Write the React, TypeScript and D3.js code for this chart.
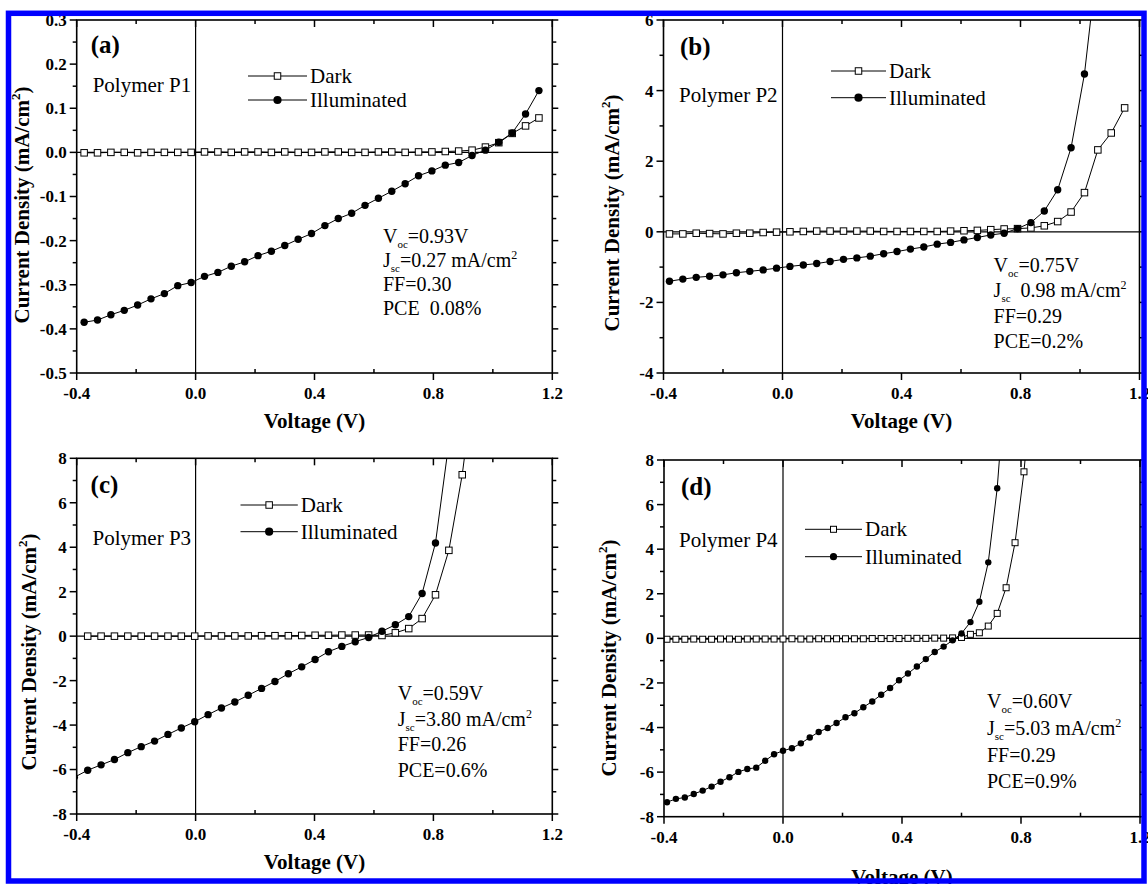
import React from "react";
import * as d3 from "d3";

// ---- data (V in volts, J in mA/cm2) ----
const xTicks = [-0.4, 0.0, 0.4, 0.8, 1.2];
const xMinor = [-0.2, 0.2, 0.6, 1.0];

const yTicksA = [-0.5, -0.4, -0.3, -0.2, -0.1, 0.0, 0.1, 0.2, 0.3];
const yMinorA = [-0.45, -0.35, -0.25, -0.15, -0.05, 0.05, 0.15, 0.25];
const yTicksB = [-4, -2, 0, 2, 4, 6];
const yMinorB = [-3, -1, 1, 3, 5];
const yTicksCD = [-8, -6, -4, -2, 0, 2, 4, 6, 8];
const yMinorCD = [-7, -5, -3, -1, 1, 3, 5, 7];

const voltsA = [-0.375, -0.33, -0.285, -0.24, -0.195, -0.15, -0.105, -0.06, -0.015, 0.03, 0.075, 0.12, 0.165, 0.21, 0.255, 0.3, 0.345, 0.39, 0.435, 0.48, 0.525, 0.57, 0.615, 0.66, 0.705, 0.75, 0.795, 0.84, 0.885, 0.93, 0.975, 1.02, 1.065, 1.11, 1.155];
const illumA = [-0.385, -0.38, -0.368, -0.358, -0.346, -0.332, -0.32, -0.302, -0.295, -0.281, -0.272, -0.258, -0.248, -0.234, -0.224, -0.211, -0.197, -0.184, -0.166, -0.15, -0.138, -0.12, -0.104, -0.088, -0.071, -0.053, -0.042, -0.029, -0.023, -0.007, 0.005, 0.023, 0.044, 0.087, 0.14];
const darkA = [-0.001, -0.001, 0.0, 0.0, -0.001, 0.0, 0.0, 0.0, 0.0, 0.001, 0.001, 0.0, 0.001, 0.001, 0.0, 0.001, 0.0, 0.0, 0.001, 0.001, 0.0, 0.0, 0.001, 0.001, 0.0, 0.001, 0.001, 0.002, 0.003, 0.005, 0.012, 0.022, 0.043, 0.06, 0.078];

const voltsB = [-0.38, -0.335, -0.29, -0.245, -0.2, -0.155, -0.11, -0.065, -0.02, 0.025, 0.07, 0.115, 0.16, 0.205, 0.25, 0.295, 0.34, 0.385, 0.43, 0.475, 0.52, 0.565, 0.61, 0.655, 0.7, 0.745, 0.79, 0.835, 0.88, 0.925, 0.97, 1.015, 1.06, 1.105, 1.15];
const illumB = [-1.4, -1.34, -1.29, -1.26, -1.22, -1.16, -1.12, -1.08, -1.03, -0.98, -0.94, -0.9, -0.84, -0.78, -0.74, -0.69, -0.62, -0.56, -0.49, -0.43, -0.35, -0.3, -0.23, -0.16, -0.09, -0.04, 0.09, 0.26, 0.59, 1.19, 2.38, 4.47, 7.8];
const darkB = [-0.06, -0.06, -0.04, -0.05, -0.06, -0.04, -0.04, -0.02, -0.01, 0.0, 0.01, 0.02, 0.02, 0.02, 0.02, 0.02, 0.01, 0.01, 0.01, 0.01, 0.01, 0.02, 0.03, 0.04, 0.06, 0.08, 0.09, 0.11, 0.17, 0.29, 0.56, 1.11, 2.32, 2.8, 3.51];

const voltsC = [-0.408, -0.363, -0.318, -0.273, -0.228, -0.183, -0.138, -0.093, -0.048, -0.003, 0.042, 0.087, 0.132, 0.177, 0.222, 0.267, 0.312, 0.357, 0.402, 0.447, 0.492, 0.537, 0.582, 0.627, 0.672, 0.717, 0.762, 0.807, 0.852, 0.897, 0.942];
const illumC = [-6.35, -6.03, -5.79, -5.55, -5.24, -4.97, -4.72, -4.42, -4.13, -3.85, -3.53, -3.23, -2.96, -2.66, -2.35, -2.04, -1.69, -1.38, -1.05, -0.7, -0.46, -0.25, -0.06, 0.22, 0.51, 0.88, 1.92, 4.19, 8.7];
const darkC = [null, 0.0, 0.0, 0.0, 0.0, 0.0, 0.0, 0.0, 0.0, 0.0, 0.01, 0.01, 0.01, 0.01, 0.02, 0.02, 0.02, 0.03, 0.04, 0.04, 0.05, 0.05, 0.05, 0.03, 0.15, 0.34, 0.79, 1.86, 3.86, 7.26, 12];

const voltsD = [-0.39, -0.36, -0.33, -0.3, -0.27, -0.24, -0.21, -0.18, -0.15, -0.12, -0.09, -0.06, -0.03, 0.0, 0.03, 0.06, 0.09, 0.12, 0.15, 0.18, 0.21, 0.24, 0.27, 0.3, 0.33, 0.36, 0.39, 0.42, 0.45, 0.48, 0.51, 0.54, 0.57, 0.6, 0.63, 0.66, 0.69, 0.72, 0.75, 0.78, 0.81, 0.84];
const illumD = [-7.35, -7.2, -7.14, -6.98, -6.83, -6.65, -6.43, -6.23, -5.99, -5.86, -5.8, -5.49, -5.2, -5.04, -4.93, -4.71, -4.45, -4.2, -4.02, -3.8, -3.54, -3.36, -3.09, -2.83, -2.53, -2.23, -1.88, -1.58, -1.26, -0.93, -0.61, -0.37, -0.09, 0.22, 0.73, 1.64, 3.41, 6.73, 12];
const darkD = [-0.04, -0.04, -0.04, -0.03, -0.04, -0.04, -0.03, -0.03, -0.04, -0.03, -0.03, -0.03, -0.03, -0.03, -0.02, -0.03, -0.03, -0.02, -0.02, -0.02, -0.02, -0.02, -0.02, -0.01, -0.01, -0.01, -0.01, 0.0, 0.0, 0.0, 0.01, 0.01, 0.02, 0.04, 0.18, 0.25, 0.55, 1.12, 2.27, 4.29, 7.47, 12];

const annA = [
  { base: "V", sub: "oc", text: "=0.93V" },
  { base: "J", sub: "sc", text: "=0.27 mA/cm", sup: "2" },
  { text: "FF=0.30" },
  { text: "PCE  0.08%" },
];
const annB = [
  { base: "V", sub: "oc", text: "=0.75V" },
  { base: "J", sub: "sc", text: "  0.98 mA/cm", sup: "2" },
  { text: "FF=0.29" },
  { text: "PCE=0.2%" },
];
const annC = [
  { base: "V", sub: "oc", text: "=0.59V" },
  { base: "J", sub: "sc", text: "=3.80 mA/cm", sup: "2" },
  { text: "FF=0.26" },
  { text: "PCE=0.6%" },
];
const annD = [
  { base: "V", sub: "oc", text: "=0.60V" },
  { base: "J", sub: "sc", text: "=5.03 mA/cm", sup: "2" },
  { text: "FF=0.29" },
  { text: "PCE=0.9%" },
];

const serif = '"Liberation Serif", "Times New Roman", serif';

const panels = [
  {
    id: "a", tag: "(a)", polymer: "Polymer P1",
    box: { x0: 76.7, x1: 552.3, y0: 20, y1: 373 },
    yDomain: [-0.5, 0.3], yTicks: yTicksA, yMinor: yMinorA, yDec: 1,
    volts: voltsA, illum: illumA, dark: darkA, ann: annA,
    tagPos: [90.7, 53.3], polyPos: [92.7, 91.7],
    legend: { x0: 248, x1: 307, y: 76, gap: 24 },
    annPos: { x: 383, y: 243, dy: 24 },
    yLab: [29, 205], xLabY: 428, r: 3.7, sq: 6.5,
  },
  {
    id: "b", tag: "(b)", polymer: "Polymer P2",
    box: { x0: 663.5, x1: 1139.5, y0: 20, y1: 373 },
    yDomain: [-4, 6], yTicks: yTicksB, yMinor: yMinorB, yDec: 0,
    volts: voltsB, illum: illumB, dark: darkB, ann: annB,
    tagPos: [680, 55], polyPos: [679, 101.7],
    legend: { x0: 831, x1: 886, y: 71, gap: 26.7 },
    annPos: { x: 993.6, y: 271.7, dy: 25.5 },
    yLab: [619, 213], xLabY: 428, r: 3.7, sq: 6.5,
  },
  {
    id: "c", tag: "(c)", polymer: "Polymer P3",
    box: { x0: 76.7, x1: 552.3, y0: 458.3, y1: 814 },
    yDomain: [-8, 8], yTicks: yTicksCD, yMinor: yMinorCD, yDec: 0,
    volts: voltsC, illum: illumC, dark: darkC, ann: annC,
    tagPos: [90.6, 493], polyPos: [92.5, 545],
    legend: { x0: 240.5, x1: 297.8, y: 505, gap: 26.7 },
    annPos: { x: 397.7, y: 700, dy: 25.6 },
    yLab: [36, 652], xLabY: 869, r: 3.7, sq: 6.5,
  },
  {
    id: "d", tag: "(d)", polymer: "Polymer P4",
    box: { x0: 664, x1: 1140, y0: 460, y1: 816.7 },
    yDomain: [-8, 8], yTicks: yTicksCD, yMinor: yMinorCD, yDec: 0,
    volts: voltsD, illum: illumD, dark: darkD, ann: annD,
    tagPos: [681, 495], polyPos: [679, 546.7],
    legend: { x0: 805, x1: 862, y: 529.3, gap: 27.4 },
    annPos: { x: 987, y: 708.3, dy: 26.7 },
    yLab: [616, 658], xLabY: 884, r: 3.2, sq: 6,
  },
];

const Square = ({ cx, cy, s }: { cx: number; cy: number; s: number }) => (
  <rect x={cx - s / 2} y={cy - s / 2} width={s} height={s} fill="#fff" stroke="#000" strokeWidth={1} />
);

const Panel = ({ p }: { p: any }) => {
  const { box } = p;
  const x = d3.scaleLinear().domain([-0.4, 1.2]).range([box.x0, box.x1]);
  const y = d3.scaleLinear().domain(p.yDomain).range([box.y1, box.y0]);

  const toPts = (vals: (number | null)[]) =>
    vals.map((v, i) => [p.volts[i], v] as [number, number | null]).filter((d) => d[1] !== null) as [number, number][];
  const illumPts = toPts(p.illum);
  const darkPts = toPts(p.dark);

  const line = d3.line<[number, number]>().x((d) => x(d[0])).y((d) => y(d[1]));
  const fmtY = (v: number) => v.toFixed(p.yDec);
  const clipId = `clip-${p.id}`;
  const cxMid = (box.x0 + box.x1) / 2;
  const lg = p.legend;
  const lgMid = (lg.x0 + lg.x1) / 2;

  return (
    <g fontFamily={serif}>
      <defs>
        <clipPath id={clipId}>
          <rect x={box.x0} y={box.y0} width={box.x1 - box.x0} height={box.y1 - box.y0} />
        </clipPath>
      </defs>

      {/* zero lines */}
      <line x1={box.x0} x2={box.x1} y1={y(0)} y2={y(0)} stroke="#000" strokeWidth={1.2} />
      <line x1={x(0)} x2={x(0)} y1={box.y0} y2={box.y1} stroke="#000" strokeWidth={1.2} />

      {/* curves */}
      <g clipPath={`url(#${clipId})`}>
        <path d={line(darkPts) || ""} fill="none" stroke="#000" strokeWidth={1} />
        <path d={line(illumPts) || ""} fill="none" stroke="#000" strokeWidth={1} />
        {darkPts.map((d, i) => (
          <Square key={"d" + i} cx={x(d[0])} cy={y(d[1])} s={p.sq} />
        ))}
        {illumPts.map((d, i) => (
          <circle key={"i" + i} cx={x(d[0])} cy={y(d[1])} r={p.r} fill="#000" />
        ))}
      </g>

      {/* frame */}
      <rect x={box.x0} y={box.y0} width={box.x1 - box.x0} height={box.y1 - box.y0} fill="none" stroke="#000" strokeWidth={1.6} />

      {/* x ticks */}
      {xTicks.map((t) => (
        <g key={"xt" + t}>
          <line x1={x(t)} x2={x(t)} y1={box.y1} y2={box.y1 + 7} stroke="#000" strokeWidth={1.5} />
          <line x1={x(t)} x2={x(t)} y1={box.y0} y2={box.y0 + 7} stroke="#000" strokeWidth={1.5} />
          <text x={x(t)} y={box.y1 + 26} textAnchor="middle" fontSize={17} fontWeight="bold">
            {t.toFixed(1)}
          </text>
        </g>
      ))}
      {xMinor.map((t) => (
        <g key={"xm" + t}>
          <line x1={x(t)} x2={x(t)} y1={box.y1} y2={box.y1 - 4} stroke="#000" strokeWidth={1.5} />
          <line x1={x(t)} x2={x(t)} y1={box.y0} y2={box.y0 + 4} stroke="#000" strokeWidth={1.5} />
        </g>
      ))}

      {/* y ticks */}
      {p.yTicks.map((t: number) => (
        <g key={"yt" + t}>
          <line x1={box.x0 - 7} x2={box.x0} y1={y(t)} y2={y(t)} stroke="#000" strokeWidth={1.5} />
          <line x1={box.x1} x2={box.x1 + 6} y1={y(t)} y2={y(t)} stroke="#000" strokeWidth={1.5} />
          <text x={box.x0 - 10} y={y(t)} dy="0.35em" textAnchor="end" fontSize={17} fontWeight="bold">
            {fmtY(t)}
          </text>
        </g>
      ))}
      {p.yMinor.map((t: number) => (
        <g key={"ym" + t}>
          <line x1={box.x0 - 4} x2={box.x0} y1={y(t)} y2={y(t)} stroke="#000" strokeWidth={1.5} />
          <line x1={box.x1} x2={box.x1 + 4} y1={y(t)} y2={y(t)} stroke="#000" strokeWidth={1.5} />
        </g>
      ))}

      {/* axis titles */}
      <text x={cxMid} y={p.xLabY} textAnchor="middle" fontSize={21} fontWeight="bold">
        Voltage (V)
      </text>
      <text
        transform={`translate(${p.yLab[0]},${p.yLab[1]}) rotate(-90)`}
        textAnchor="middle"
        fontSize={21}
        fontWeight="bold"
      >
        Current Density (mA/cm<tspan dy={-9} fontSize={13}>2</tspan>
        <tspan dy={9}>)</tspan>
      </text>

      {/* panel tag and polymer name */}
      <text x={p.tagPos[0]} y={p.tagPos[1]} fontSize={25} fontWeight="bold">
        {p.tag}
      </text>
      <text x={p.polyPos[0]} y={p.polyPos[1]} fontSize={21}>
        {p.polymer}
      </text>

      {/* legend */}
      <line x1={lg.x0} x2={lg.x1} y1={lg.y} y2={lg.y} stroke="#000" strokeWidth={1} />
      <Square cx={lgMid} cy={lg.y} s={p.sq} />
      <text x={lg.x1 + 3} y={lg.y + 7} fontSize={21}>Dark</text>
      <line x1={lg.x0} x2={lg.x1} y1={lg.y + lg.gap} y2={lg.y + lg.gap} stroke="#000" strokeWidth={1} />
      <circle cx={lgMid} cy={lg.y + lg.gap} r={p.r + 0.4} fill="#000" />
      <text x={lg.x1 + 3} y={lg.y + lg.gap + 7} fontSize={21}>Illuminated</text>

      {/* device parameters */}
      {p.ann.map((a: any, i: number) => (
        <text key={"an" + i} x={p.annPos.x} y={p.annPos.y + i * p.annPos.dy} fontSize={20} style={{ whiteSpace: "pre" }}>
          {a.base ? a.base : null}
          {a.sub ? <tspan dy={5} fontSize={11}>{a.sub}</tspan> : null}
          {a.sub ? <tspan dy={-5}>{a.text}</tspan> : a.text}
          {a.sup ? <tspan dy={-8} fontSize={12}>{a.sup}</tspan> : null}
        </text>
      ))}
    </g>
  );
};

export default function App() {
  const W = 1148;
  const H = 884;
  return (
    <div style={{ position: "absolute", left: 0, top: 0 }}>
      <svg width={W} height={H} style={{ display: "block", background: "#fff" }}>
        <rect x={0} y={0} width={W} height={H} fill="#fff" />
        {panels.map((p) => (
          <Panel key={p.id} p={p} />
        ))}
        {/* blue outer frame */}
        <rect x={8.5} y={13.3} width={1135.5} height={867.7} fill="none" stroke="#0000ff" strokeWidth={5.5} />
      </svg>
    </div>
  );
}
